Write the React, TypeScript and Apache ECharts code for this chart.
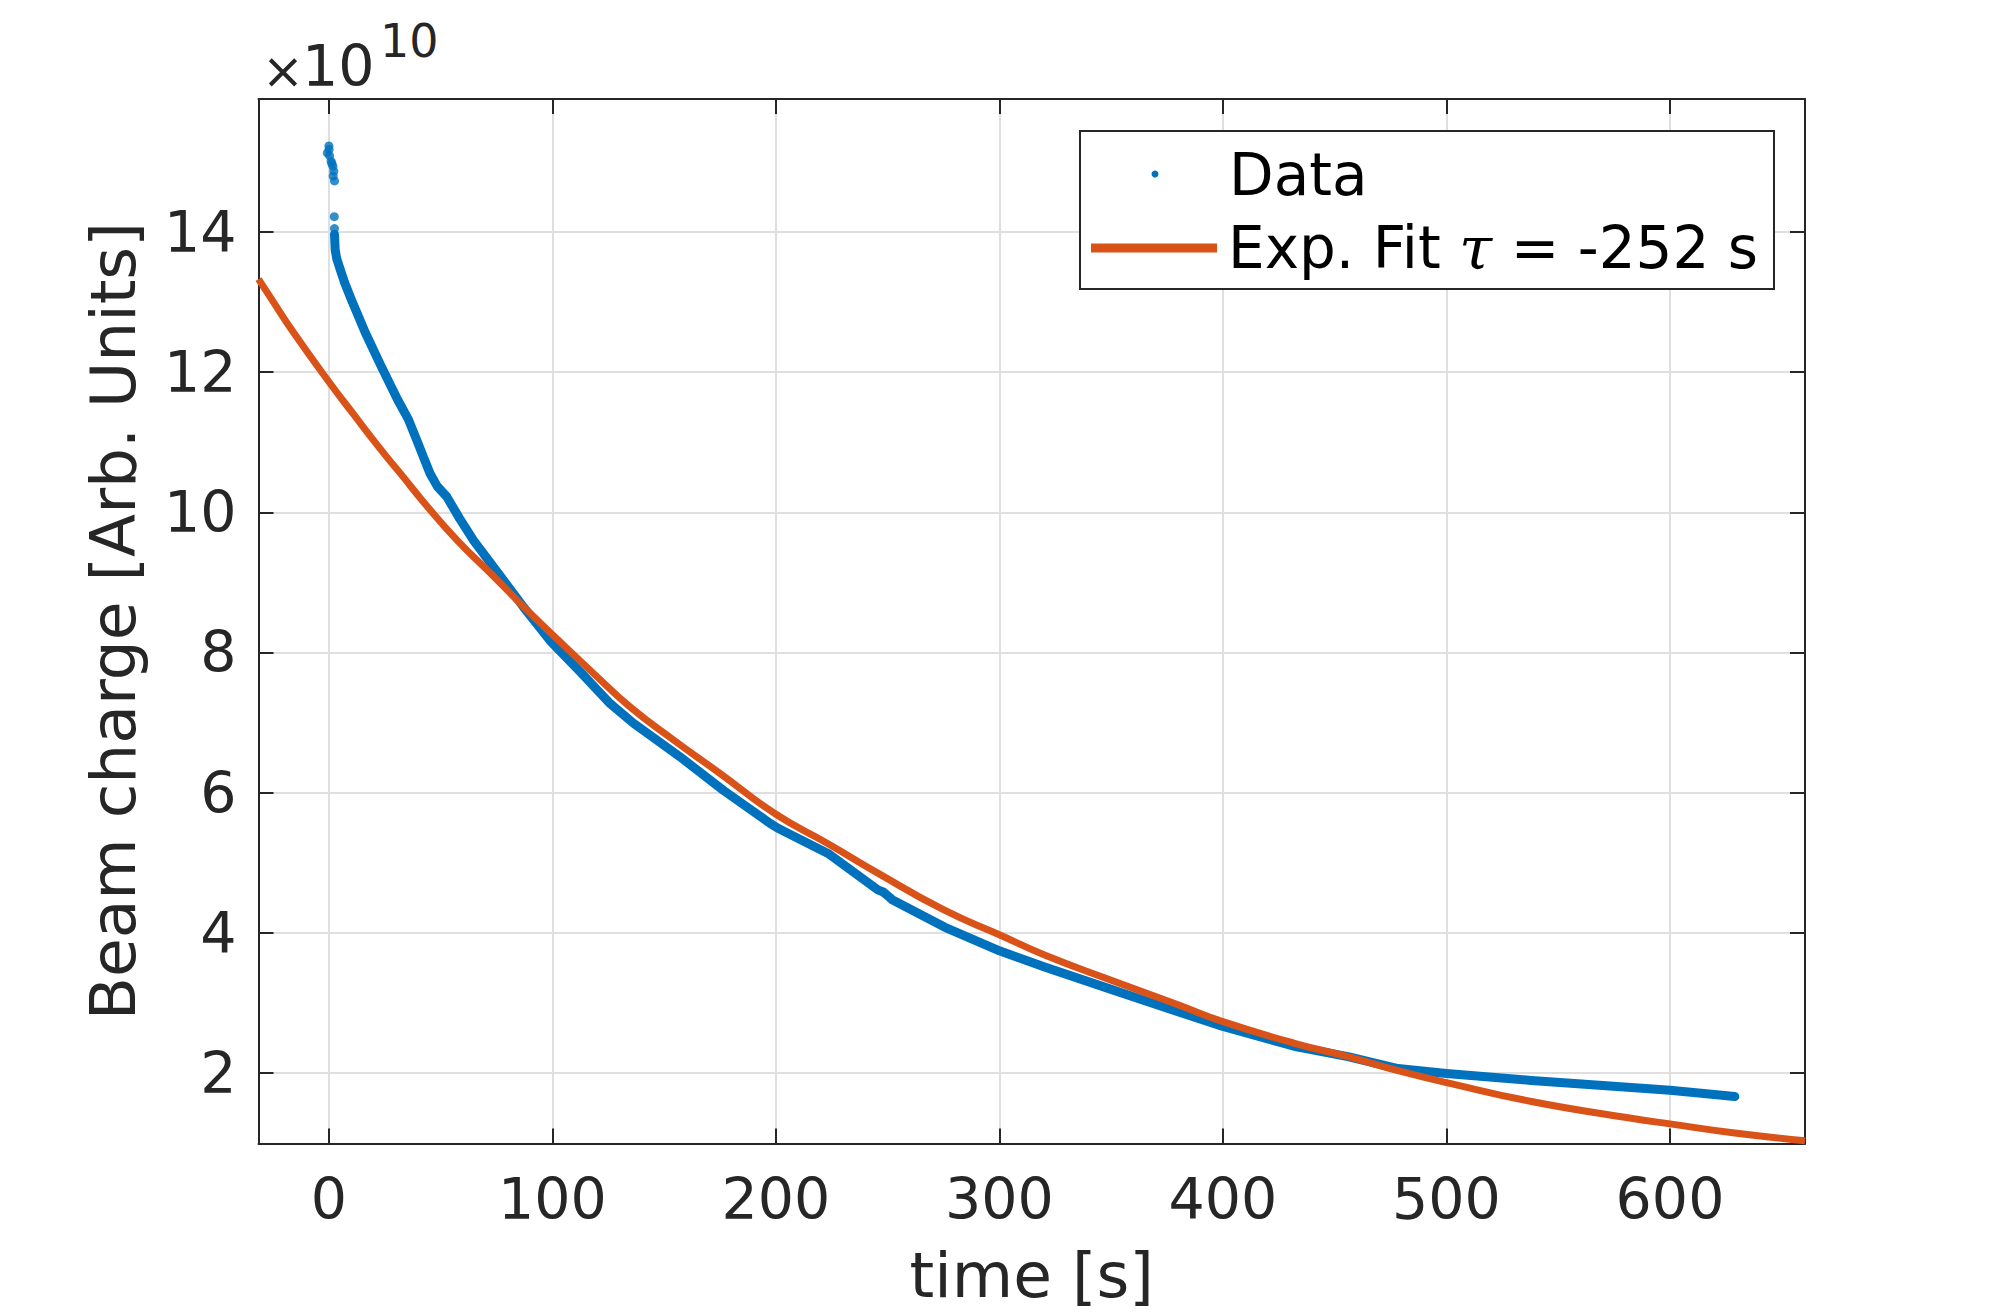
import React, { useEffect, useRef } from "react";
import * as echarts from "echarts";

// Blue "Data" series (charge in units of 1e10), main continuous trace
const dataTime = [
  2.5, 2.8, 3.5, 4.5, 7, 10, 16.2, 23.3, 30.7, 35.5, 39.3, 42.4, 45.3, 48.5, 52.8,
  58.5, 64.7, 78.1, 87, 98.9, 113.1, 125.8, 136.2, 157.1, 176.5, 197.4, 200.9,
  223.3, 245.6, 248, 251, 252, 275.4, 300, 320.2, 350, 379.9, 400, 433,
  455.9, 478.3, 500, 538, 582.7, 600, 629,
];
const dataCharge = [
  13.97, 13.75, 13.62, 13.52, 13.28, 13.04, 12.57, 12.09, 11.61, 11.33, 11.03,
  10.78, 10.55, 10.37, 10.22, 9.91, 9.6, 9.03, 8.65, 8.17, 7.7, 7.27, 6.99, 6.51, 6.03,
  5.56, 5.49, 5.13, 4.61, 4.58, 4.5, 4.47, 4.08, 3.74, 3.51, 3.19, 2.87,
  2.66, 2.37, 2.23, 2.06, 1.99, 1.89, 1.79, 1.75, 1.66,
];
// Isolated early "Data" samples near t = 0
const burstTime = [0, -0.7, 0.3, 1.0, 1.8, 2.2, 1.9, 2.5, 0.1, 1.3, 2.4, 2.5];
const burstCharge = [15.23, 15.13, 15.09, 15.01, 14.94, 14.87, 14.8, 14.73, 15.18, 14.98, 14.22, 14.05];

// Orange exponential fit curve
const fitTime = [
  -31.5, -25.6, -15.9, 0.3, 11.5, 19.9, 26.4, 31.6, 44.1, 57.4, 72.3,
  87.2, 102.8, 118.4, 134.8, 154.2, 175.1, 200, 223.3, 245.6, 275.4, 300,
  320.2, 350, 379.9, 400, 432, 455.9, 478.3, 500, 538, 582.7, 600, 629, 660.4,
];
const fitCharge = [
  13.33, 13.04, 12.57, 11.85, 11.38, 11.03, 10.77, 10.57, 10.08, 9.6,
  9.13, 8.65, 8.17, 7.7, 7.22, 6.75, 6.27, 5.69, 5.27, 4.85, 4.32, 3.97,
  3.68, 3.32, 2.97, 2.73, 2.42, 2.23, 2.03, 1.86, 1.59, 1.35, 1.27, 1.14, 1.03,
];

const xRange = [-31.5, 660.4];
const yRange = [0.99, 15.9];
const xStep = 100;
const yStep = 2;

const legendNames = ["Data", "Exp. Fit τ = -252 s"];
const xTitle = "time [s]";
const yTitle = "Beam charge [Arb. Units]";

const BLUE = "#0072BD";
const ORANGE = "#D95319";
const AX = "#262626";
const FONT = "DejaVu Sans";

function pairs(xs: number[], ys: number[]) {
  return xs.map((x, i) => [x, ys[i]]);
}

export default function App() {
  const ref = useRef<HTMLDivElement>(null);
  useEffect(() => {
    if (!ref.current) return;
    const chart = echarts.init(ref.current, null, { renderer: "svg" });
    const axisLine = { show: true, onZero: false, lineStyle: { color: AX, width: 2 } };
    const axisTick = { show: true, inside: true, length: 15, lineStyle: { color: AX, width: 2 } };
    const splitLine = { show: true, lineStyle: { color: "#dfdfdf", width: 2 } };
    chart.setOption({
      animation: false,
      backgroundColor: "#ffffff",
      textStyle: { fontFamily: FONT },
      grid: { left: 258.5, top: 99, width: 1546.5, height: 1044.5, containLabel: false },
      xAxis: [
        {
          type: "value",
          position: "bottom",
          min: xRange[0],
          max: xRange[1],
          minInterval: xStep,
          maxInterval: xStep,
          axisLine,
          axisTick,
          splitLine,
          axisLabel: {
            show: true,
            margin: 27,
            fontSize: 57,
            color: AX,
            fontFamily: FONT,
            showMinLabel: false,
            showMaxLabel: false,
          },
          name: xTitle,
          nameLocation: "middle",
          nameGap: 100,
          nameTextStyle: { fontSize: 63, color: AX, fontFamily: FONT },
        },
        {
          type: "value",
          position: "top",
          min: xRange[0],
          max: xRange[1],
          minInterval: xStep,
          maxInterval: xStep,
          axisLine,
          axisTick,
          splitLine: { show: false },
          axisLabel: { show: false },
        },
      ],
      yAxis: [
        {
          type: "value",
          position: "left",
          min: yRange[0],
          max: yRange[1],
          minInterval: yStep,
          maxInterval: yStep,
          axisLine,
          axisTick,
          splitLine,
          axisLabel: {
            show: true,
            margin: 22,
            fontSize: 57,
            color: AX,
            fontFamily: FONT,
            showMinLabel: false,
            showMaxLabel: false,
          },
          name: yTitle,
          nameLocation: "middle",
          nameGap: 114,
          nameTextStyle: { fontSize: 63, color: AX, fontFamily: FONT },
        },
        {
          type: "value",
          position: "right",
          min: yRange[0],
          max: yRange[1],
          minInterval: yStep,
          maxInterval: yStep,
          axisLine,
          axisTick,
          splitLine: { show: false },
          axisLabel: { show: false },
        },
      ],
      series: [
        {
          name: legendNames[0],
          type: "line",
          data: pairs(dataTime, dataCharge),
          showSymbol: false,
          smooth: false,
          lineStyle: { color: BLUE, width: 9, cap: "round", join: "round" },
          itemStyle: { color: BLUE },
          z: 2,
        },
        {
          name: legendNames[0],
          type: "scatter",
          data: pairs(burstTime, burstCharge),
          symbol: "circle",
          symbolSize: 9,
          itemStyle: { color: BLUE },
          z: 2,
        },
        {
          name: legendNames[1],
          type: "line",
          data: pairs(fitTime, fitCharge),
          showSymbol: false,
          smooth: true,
          lineStyle: { color: ORANGE, width: 7, join: "round" },
          itemStyle: { color: ORANGE },
          z: 3,
        },
      ],
      graphic: [
        // exponent label
        {
          type: "text",
          x: 262,
          y: 71,
          style: { text: "×", fontSize: 50, fontFamily: FONT, fill: AX, align: "left", verticalAlign: "middle" },
        },
        {
          type: "text",
          x: 302,
          y: 66,
          style: { text: "10", fontSize: 57, fontFamily: FONT, fill: AX, align: "left", verticalAlign: "middle" },
        },
        {
          type: "text",
          x: 380,
          y: 41,
          style: { text: "10", fontSize: 46, fontFamily: FONT, fill: AX, align: "left", verticalAlign: "middle" },
        },
        // legend
        {
          type: "rect",
          shape: { x: 1080, y: 131, width: 694, height: 158 },
          style: { fill: "#ffffff", stroke: AX, lineWidth: 2 },
          z: 10,
        },
        {
          type: "circle",
          shape: { cx: 1155, cy: 174, r: 3.5 },
          style: { fill: BLUE },
          z: 11,
        },
        {
          type: "line",
          shape: { x1: 1091, y1: 248, x2: 1217, y2: 248 },
          style: { stroke: ORANGE, lineWidth: 9 },
          z: 11,
        },
        {
          type: "text",
          x: 1229,
          y: 175,
          style: { text: legendNames[0], fontSize: 58, fontFamily: FONT, fill: "#000", align: "left", verticalAlign: "middle" },
          z: 11,
        },
        {
          type: "text",
          x: 1228,
          y: 248,
          style: {
            text: "{a|Exp. Fit }{b|τ}{a| = -252 s}",
            align: "left",
            verticalAlign: "middle",
            rich: {
              a: { fontSize: 58, fontFamily: FONT, fill: "#000" },
              b: { fontSize: 60, fontFamily: "DejaVu Serif", fontStyle: "italic", fill: "#000" },
            },
          },
          z: 11,
        },
      ],
    });
    return () => chart.dispose();
  }, []);
  return (
    <div
      ref={ref}
      style={{ position: "fixed", left: 0, top: 0, width: 1996, height: 1314, background: "#fff" }}
    />
  );
}
